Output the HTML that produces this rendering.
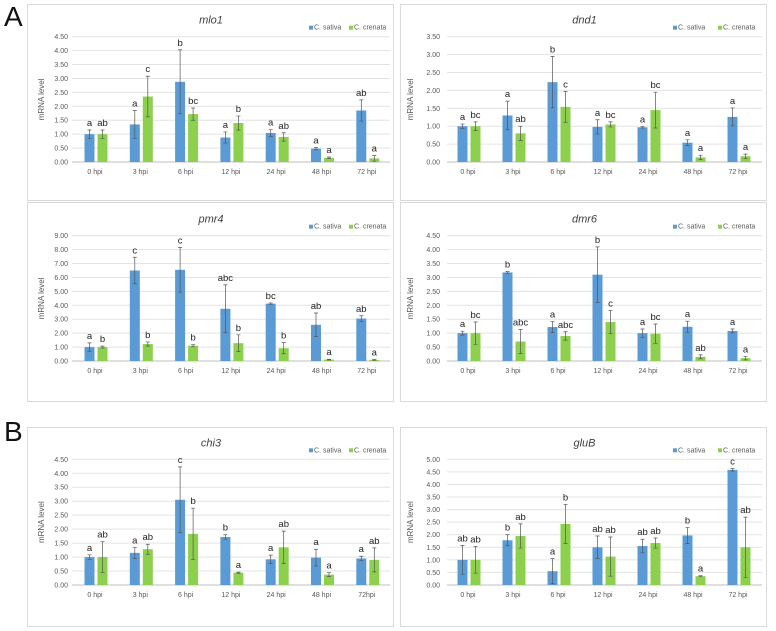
<!DOCTYPE html>
<html><head><meta charset="utf-8">
<style>
html,body{margin:0;padding:0;background:#fff;}
svg{display:block;font-family:"Liberation Sans",sans-serif;}
</style></head>
<body>
<svg id="fig" width="776" height="631" viewBox="0 0 776 631">
<text x="4" y="26" font-size="28" fill="#111">A</text>
<text x="4" y="441" font-size="28" fill="#111">B</text>
</svg>
<script>
const categories = ["0 hpi","3 hpi","6 hpi","12 hpi","24 hpi","48 hpi","72 hpi"];
const categoriesChi3 = ["0 hpi","3 hpi","6 hpi","12 hpi","24 hpi","48 hpi","72hpi"];
const seriesNames = ["C. sativa","C. crenata"];

const mlo1Sativa = [1.0,1.35,2.88,0.88,1.04,0.48,1.85];
const mlo1SativaErr = [0.15,0.5,1.15,0.2,0.12,0.04,0.38];
const mlo1Crenata = [1.0,2.35,1.72,1.4,0.9,0.15,0.13];
const mlo1CrenataErr = [0.15,0.73,0.22,0.25,0.15,0.03,0.1];
const mlo1SativaLetters = ["a","a","b","a","a","a","ab"];
const mlo1CrenataLetters = ["ab","c","bc","b","ab","a","a"];

const dnd1Sativa = [1.0,1.3,2.23,0.98,0.97,0.54,1.26];
const dnd1SativaErr = [0.06,0.4,0.72,0.2,0.02,0.08,0.25];
const dnd1Crenata = [1.0,0.8,1.54,1.05,1.45,0.13,0.16];
const dnd1CrenataErr = [0.12,0.2,0.43,0.07,0.5,0.06,0.06];
const dnd1SativaLetters = ["a","a","b","a","a","a","a"];
const dnd1CrenataLetters = ["bc","ab","c","bc","bc","a","a"];

const pmr4Sativa = [1.0,6.5,6.55,3.75,4.12,2.6,3.05];
const pmr4SativaErr = [0.3,0.95,1.6,1.72,0.05,0.85,0.2];
const pmr4Crenata = [1.0,1.22,1.1,1.28,0.92,0.1,0.08];
const pmr4CrenataErr = [0.07,0.15,0.08,0.6,0.4,0.03,0.03];
const pmr4SativaLetters = ["a","c","c","abc","bc","ab","ab"];
const pmr4CrenataLetters = ["b","b","b","b","b","a","a"];

const dmr6Sativa = [1.0,3.18,1.22,3.1,1.0,1.23,1.08];
const dmr6SativaErr = [0.07,0.03,0.2,1.0,0.15,0.2,0.07];
const dmr6Crenata = [1.0,0.7,0.9,1.4,0.98,0.15,0.1];
const dmr6CrenataErr = [0.4,0.43,0.15,0.42,0.35,0.07,0.06];
const dmr6SativaLetters = ["a","b","a","b","a","a","a"];
const dmr6CrenataLetters = ["bc","abc","abc","c","bc","ab","a"];

const chi3Sativa = [1.0,1.15,3.05,1.72,0.92,0.98,0.95];
const chi3SativaErr = [0.08,0.2,1.18,0.08,0.15,0.3,0.08];
const chi3Crenata = [1.0,1.28,1.83,0.44,1.35,0.37,0.9];
const chi3CrenataErr = [0.55,0.18,0.92,0.02,0.58,0.07,0.43];
const chi3SativaLetters = ["a","a","c","b","a","a","a"];
const chi3CrenataLetters = ["ab","ab","b","a","ab","a","ab"];

const glubSativa = [1.0,1.78,0.55,1.5,1.55,1.97,4.58];
const glubSativaErr = [0.57,0.22,0.5,0.45,0.27,0.32,0.05];
const glubCrenata = [1.0,1.95,2.43,1.13,1.67,0.35,1.5];
const glubCrenataErr = [0.53,0.48,0.78,0.78,0.2,0.02,1.2];
const glubSativaLetters = ["ab","b","a","ab","ab","b","c"];
const glubCrenataLetters = ["ab","ab","b","ab","ab","a","ab"];

const yMaxMlo1 = 4.5, yMaxDnd1 = 3.5, yMaxPmr4 = 9, yMaxDmr6 = 4.5, yMaxChi3 = 4.5, yMaxGlub = 5;
const yStepMlo1 = 0.5, yStepDnd1 = 0.5, yStepPmr4 = 1, yStepDmr6 = 0.5, yStepChi3 = 0.5, yStepGlub = 0.5;

const NS = "http://www.w3.org/2000/svg";
const svg = document.getElementById("fig");
function mk(tag, attrs, parent, text){
  const e = document.createElementNS(NS, tag);
  for (const k in attrs) e.setAttribute(k, attrs[k]);
  if (text !== undefined) e.textContent = text;
  (parent || svg).appendChild(e);
  return e;
}
const BLUE = "#5b9bd5", GREEN = "#8cd04e";

function panel(name, title, cats, s, se, c, ce, sl, cl, yMax, yStep, col, row){
  const L = col === 0 ? {bx:27,bw:366,lblR:68,gx0:72,gx1:390,c0:96,step:45.3,ytx:44,legB:310,legG:350}
                      : {bx:400,bw:366,lblR:440,gx0:447,gx1:762,c0:469,step:45,ytx:413,legB:674,legG:719};
  const R = [{by:4,bh:196,y0:162,top:36.7},{by:202,bh:199,y0:361,top:235.7},{by:427,bh:199,y0:585,top:459.3}][row];
  const g = mk("g", {});
  
  
  const border = mk("rect", {x:L.bx+0.5, y:R.by+0.5, width:L.bw, height:R.bh, fill:"#fff", stroke:"#d9d9d9", "stroke-width":1}, g);
  
  
  const yS = v => R.y0 - (v / yMax) * (R.y0 - R.top);
  const xS = i => L.c0 + i * L.step;
  const nT = Math.round(yMax / yStep);
  for (let k = 0; k <= nT; k++){
    const v = k * yStep, y = yS(v);
    const gl = mk("line", {x1:L.gx0, x2:L.gx1, y1:y, y2:y, stroke: k===0?"#bfbfbf":"#e3e3e3", "stroke-width":1}, g);
    
    
    const t = mk("text", {x:L.lblR, y:y+2.5, "font-size":7, fill:"#595959", "text-anchor":"end"}, g, v.toFixed(2));
    
    
  }
  const tt = mk("text", {x:(L.gx0+L.gx1)/2 - 20, y:R.top-13, "font-size":11, "font-style":"italic", fill:"#404040", "text-anchor":"middle"}, g, title);
  
  
  const yt = mk("text", {x:L.ytx, y:(R.y0+R.top)/2, "font-size":8, fill:"#595959", "text-anchor":"middle", transform:`rotate(-90 ${L.ytx} ${(R.y0+R.top)/2})`}, g, "mRNA level");
  
  
  [[L.legB, BLUE, seriesNames[0]],[L.legG, GREEN, seriesNames[1]]].forEach(([lx,colr,lbl])=>{
    const lg = mk("g", {}, g);
    
    
    mk("rect", {x:lx-1, y:R.top-11, width:4, height:4, fill:colr}, lg);
    mk("text", {x:lx+4, y:R.top-7, "font-size":7, fill:"#595959"}, lg, lbl);
  });
  cats.forEach((cat,i)=>{
    const xl = mk("text", {x:xS(i)-1, y:R.y0+12, "font-size":7, fill:"#595959", "text-anchor":"middle"}, g, cat);
    
    
    [[s,se,sl,-6.5,BLUE,'sativa'],[c,ce,cl,6.5,GREEN,'crenata']].forEach(([vals,errs,lets,off,colr,sn])=>{
      const cx = xS(i)+off, v = vals[i], e = errs[i];
      const b = mk("rect", {x:cx-5, y:yS(v), width:10, height:R.y0-yS(v), fill:colr}, g);
      
      
      const yt1 = yS(v+e), yb1 = yS(Math.max(0, v-e));
      const eb = mk("path", {d:`M${cx},${yt1}V${yb1}M${cx-2},${yt1}H${cx+2}M${cx-2},${yb1}H${cx+2}`, stroke:"#555", "stroke-width":0.7, fill:"none"}, g);
      
      
      const lt = mk("text", {x:cx, y:yt1-4, "font-size":9.5, fill:"#222", "text-anchor":"middle"}, g, lets[i]);
      
      
    });
  });
}
panel("mlo1","mlo1",categories,mlo1Sativa,mlo1SativaErr,mlo1Crenata,mlo1CrenataErr,mlo1SativaLetters,mlo1CrenataLetters,yMaxMlo1,yStepMlo1,0,0);
panel("dnd1","dnd1",categories,dnd1Sativa,dnd1SativaErr,dnd1Crenata,dnd1CrenataErr,dnd1SativaLetters,dnd1CrenataLetters,yMaxDnd1,yStepDnd1,1,0);
panel("pmr4","pmr4",categories,pmr4Sativa,pmr4SativaErr,pmr4Crenata,pmr4CrenataErr,pmr4SativaLetters,pmr4CrenataLetters,yMaxPmr4,yStepPmr4,0,1);
panel("dmr6","dmr6",categories,dmr6Sativa,dmr6SativaErr,dmr6Crenata,dmr6CrenataErr,dmr6SativaLetters,dmr6CrenataLetters,yMaxDmr6,yStepDmr6,1,1);
panel("chi3","chi3",categoriesChi3,chi3Sativa,chi3SativaErr,chi3Crenata,chi3CrenataErr,chi3SativaLetters,chi3CrenataLetters,yMaxChi3,yStepChi3,0,2);
panel("glub","gluB",categories,glubSativa,glubSativaErr,glubCrenata,glubCrenataErr,glubSativaLetters,glubCrenataLetters,yMaxGlub,yStepGlub,1,2);
</script>
</body></html>
